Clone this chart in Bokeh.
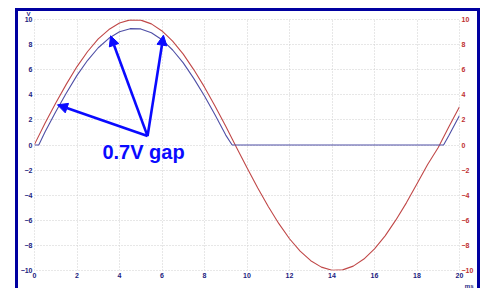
from bokeh.plotting import figure
from bokeh.models import (Range1d, FixedTicker, LinearAxis, Arrow, NormalHead,
                          Label, Title, ColumnDataSource)
from bokeh.embed import file_html
from bokeh.resources import INLINE

# time in ms
t_ms = [0, 0.5, 1, 1.5, 2, 2.5, 3, 3.5, 4, 4.5, 5, 5.5, 6, 6.5, 7, 7.5, 8, 8.5, 9,
        9.5, 10, 10.5, 11, 11.5, 12, 12.5, 13, 13.5, 14, 14.5, 15, 15.5, 16, 16.5,
        17, 17.5, 18, 18.5, 19, 19.5, 20]
# input AC (red trace), volts
input_v = [0.05, 1.75, 3.35, 4.85, 6.25, 7.45, 8.45, 9.2, 9.72, 9.97, 9.95, 9.65,
           9.09, 8.27, 7.24, 5.99, 4.61, 3.09, 1.49, -0.17, -1.81, -3.40, -4.90,
           -6.27, -7.47, -8.46, -9.22, -9.73, -9.98, -9.95, -9.65, -9.09, -8.27,
           -7.24, -5.99, -4.61, -3.09, -1.55, -0.2, 1.45, 3.05]
# rectified output (blue trace), volts
t_out = [0, 0.2, 0.5, 1, 1.5, 2, 2.5, 3, 3.5, 4, 4.5, 5, 5.5, 6, 6.5, 7, 7.5, 8,
         8.5, 9, 9.3, 19.25, 19.5, 20]
output_v = [0.0, 0.0, 1.05, 2.65, 4.15, 5.55, 6.75, 7.75, 8.5, 9.02, 9.27, 9.25,
            8.95, 8.39, 7.57, 6.54, 5.29, 3.91, 2.39, 0.79, 0.0, 0.0, 0.75, 2.35]

x_ticks = [0, 2, 4, 6, 8, 10, 12, 14, 16, 18, 20]
y_ticks = [-10, -8, -6, -4, -2, 0, 2, 4, 6, 8, 10]

arrow_start_x = 5.32
arrow_start_y = 0.71
arrow_tip_x = [1.08, 3.58, 6.07]
arrow_tip_y = [3.2, 8.7, 8.75]
gap_label = "0.7V gap"
gap_label_x = 5.13
gap_label_y = -0.56

NAVY = "#1c1c80"
RED_TXT = "#c03030"
BORDER = "#0000a0"

src_in = ColumnDataSource(dict(t=t_ms, v=input_v))
src_out = ColumnDataSource(dict(t=t_out, v=output_v))

bar = "linear-gradient(%s,%s)" % (BORDER, BORDER)
bg = ", ".join([
    bar + " 15px 8px / 3px 300px no-repeat",
    bar + " 15px 8px / 465px 3px no-repeat",
    bar + " 477px 8px / 3px 300px no-repeat",
    "white",
])

p = figure(width=486, height=288, output_backend="svg", toolbar_location=None,
           x_range=Range1d(0, 20), y_range=Range1d(-10, 10),
           min_border_left=34, min_border_right=27, min_border_top=19,
           min_border_bottom=18, background_fill_color="white",
           border_fill_color=None, styles={"background": bg})
p.outline_line_color = "#d0d0d0"
p.outline_line_dash = "1 2"

for ax in p.xaxis:
    ax.ticker = FixedTicker(ticks=x_ticks)
for ax in p.yaxis:
    ax.ticker = FixedTicker(ticks=y_ticks)

right_axis = LinearAxis(ticker=FixedTicker(ticks=y_ticks))
p.add_layout(right_axis, "right")

for ax in p.axis:
    ax.axis_line_color = None
    ax.major_tick_line_color = None
    ax.minor_tick_line_color = None
    ax.major_tick_out = 0
    ax.major_tick_in = 0
    ax.minor_tick_out = 0
    ax.minor_tick_in = 0
    ax.major_label_text_font = "Liberation Sans"
    ax.major_label_text_font_style = "bold"
    ax.major_label_text_font_size = "7px"
    ax.major_label_standoff = 2
    ax.major_label_text_color = NAVY
right_axis.major_label_text_color = RED_TXT
right_axis.major_label_standoff = 2
p.xaxis[0].major_label_standoff = 2

p.xgrid.ticker = FixedTicker(ticks=x_ticks)
p.ygrid.ticker = FixedTicker(ticks=y_ticks)
p.grid.grid_line_color = "#cfcfcf"
p.grid.grid_line_dash = "1 2"
p.grid.grid_line_width = 1

p.line("t", "v", source=src_in, line_color="#c04848", line_width=1.1)
p.line("t", "v", source=src_out, line_color="#4f4fa6", line_width=1.1)

for tx, ty in zip(arrow_tip_x, arrow_tip_y):
    p.add_layout(Arrow(end=NormalHead(size=10, fill_color="#0a0aff", line_color="#0a0aff"),
                       x_start=arrow_start_x, y_start=arrow_start_y,
                       x_end=tx, y_end=ty, line_color="#0a0aff", line_width=2.6))

p.add_layout(Label(x=gap_label_x, y=gap_label_y, text=gap_label, text_align="center",
                   text_baseline="middle", text_font="Liberation Sans",
                   text_font_style="bold", text_font_size="20px", text_color="#0a0aff"))

p.add_layout(Title(text="V", align="left", offset=-8, standoff=5,
                   text_font="Liberation Sans", text_font_style="bold",
                   text_font_size="6px", text_color=NAVY), "above")
p.add_layout(Title(text="ms", align="right", offset=-14, standoff=0,
                   text_font="Liberation Sans", text_font_style="bold",
                   text_font_size="6px", text_color=NAVY), "below")

open("out.html", "w").write(file_html(p, INLINE))
